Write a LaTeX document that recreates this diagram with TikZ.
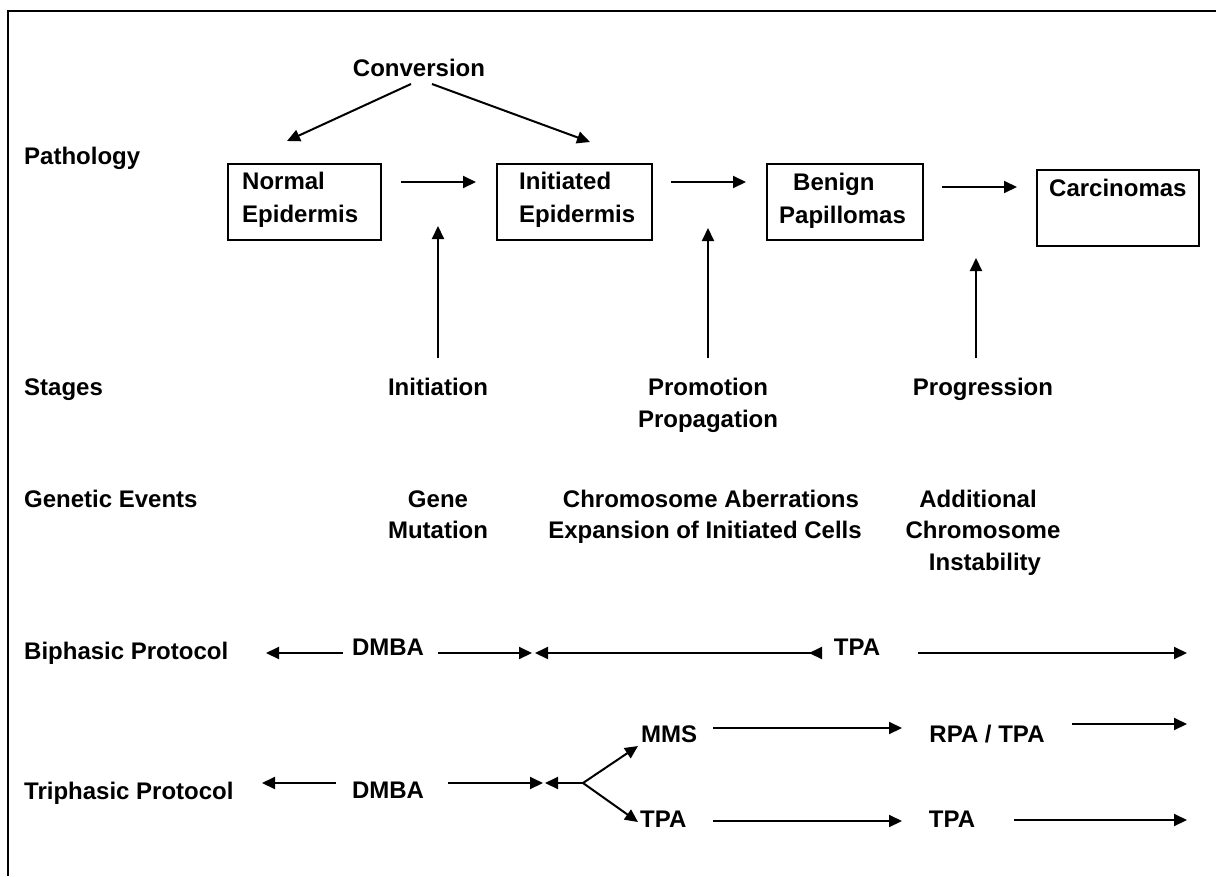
\documentclass[tikz,border=0pt]{standalone}
\usepackage{fontspec}
\setmainfont{Liberation Sans}
\usetikzlibrary{arrows.meta}
\begin{document}
\begin{tikzpicture}[x=1pt,y=-1pt,
  lbl/.style={font=\fontsize{24}{30}\selectfont\bfseries, inner sep=0pt, anchor=base},
  lblw/.style={lbl, anchor=base west},
  box/.style={draw, line width=2pt, inner sep=0pt, anchor=north west},
  arr/.style={line width=2pt, -{Triangle[length=13pt,width=12pt]}},
  ]
\useasboundingbox (0,0) rectangle (1216,876);
\draw[line width=2.5pt] (8,876) -- (8,11) -- (1216,11);

% title
\node[lbl] (conv) at (419,76) {Conversion};

% row labels
\node[lblw] (rpath) at (24,164) {Pathology};
\node[lblw] (rstage) at (24,395) {Stages};
\node[lblw] (rgen) at (24,507) {Genetic Events};
\node[lblw] (rbi) at (24,659) {Biphasic Protocol};
\node[lblw] (rtri) at (24,799) {Triphasic Protocol};

% pathology boxes
\node[box, minimum width=153pt, minimum height=76pt] (ne) at (227,163) {};
\node[lblw] (ne1) at (242,189) {Normal};
\node[lblw] (ne2) at (242,222) {Epidermis};

\node[box, minimum width=155pt, minimum height=76pt] (ie) at (496,163) {};
\node[lblw] (ie1) at (519,189) {Initiated};
\node[lblw] (ie2) at (519,222) {Epidermis};

\node[box, minimum width=156pt, minimum height=76pt] (bp) at (766,163) {};
\node[lblw] (bp1) at (793,190) {Benign};
\node[lblw] (bp2) at (779,223) {Papillomas};

\node[box, minimum width=162pt, minimum height=76pt] (ca) at (1036,169) {};
\node[lblw] (ca1) at (1049,196) {Carcinomas};

% pathology arrows
\draw[arr] ([xshift=19pt]ne.east |- 0,182) -- ([xshift=-20pt]ie.west |- 0,182);
\draw[arr] ([xshift=18pt]ie.east |- 0,182) -- ([xshift=-20pt]bp.west |- 0,182);
\draw[arr] ([xshift=18pt]bp.east |- 0,187) -- ([xshift=-19pt]ca.west |- 0,187);

% conversion arrows
\coordinate (cvl) at (287,141);
\coordinate (cvr) at (590,142);
\draw[arr] (411,84) -- (cvl);
\draw[arr] (432,84) -- (cvr);

% stages
\node[lbl] (sinit) at (438,395) {Initiation};
\node[lbl] (sprom) at (708,395) {Promotion};
\node[lbl] (sprop) at (708,427) {Propagation};
\node[lbl] (sprog) at (983,395) {Progression};
\draw[arr] (sinit.north |- 0,358) -- (sinit.north |- 0,226);
\draw[arr] (sprom.north |- 0,358) -- (sprom.north |- 0,228);
\draw[arr] (976,358) -- (976,258);

% genetic events
\node[lbl] (g1a) at (438,507) {Gene};
\node[lbl] (g1b) at (438,538) {Mutation};
\node[lbl] (g2a) at (711,507) {Chromosome Aberrations};
\node[lbl] (g2b) at (705,538) {Expansion of Initiated Cells};
\node[lbl] (g3a) at (978,507) {Additional};
\node[lbl] (g3b) at (983,538) {Chromosome};
\node[lbl] (g3c) at (985,570) {Instability};

% biphasic protocol
\node[lbl] (bdmba) at (388,655) {DMBA};
\node[lbl] (btpa) at (857,655) {TPA};
\draw[arr] (343,653) -- (266,653);
\draw[arr] (438,653) -- (532,653);
\draw[line width=2pt, {Triangle[length=13pt,width=12pt]}-{Triangle[length=13pt,width=12pt,reversed]}] (535,653) -- (822,653);
\draw[arr] (918,653) -- (1187,653);

% triphasic protocol
\node[lbl] (tdmba) at (388,798) {DMBA};
\node[lblw] (tmms) at (641,742) {MMS};
\node[lblw] (ttpa1) at (640,827) {TPA};
\node[lbl] (trpa) at (987,742) {RPA / TPA};
\node[lbl] (ttpa2) at (952,827) {TPA};
\coordinate (fork) at (583,783);
\draw[arr] (336,783) -- (262,783);
\draw[arr] (448,783) -- (543,783);
\draw[arr] (fork) -- (545,783);
\draw[arr] (fork) -- (638,746);
\draw[arr] (fork) -- (638,822);
\draw[arr] (713,728) -- (902,728);
\draw[arr] (1072,724) -- (1187,724);
\draw[arr] (713,821) -- (902,821);
\draw[arr] (1014,820) -- (1187,820);
\end{tikzpicture}
\end{document}
